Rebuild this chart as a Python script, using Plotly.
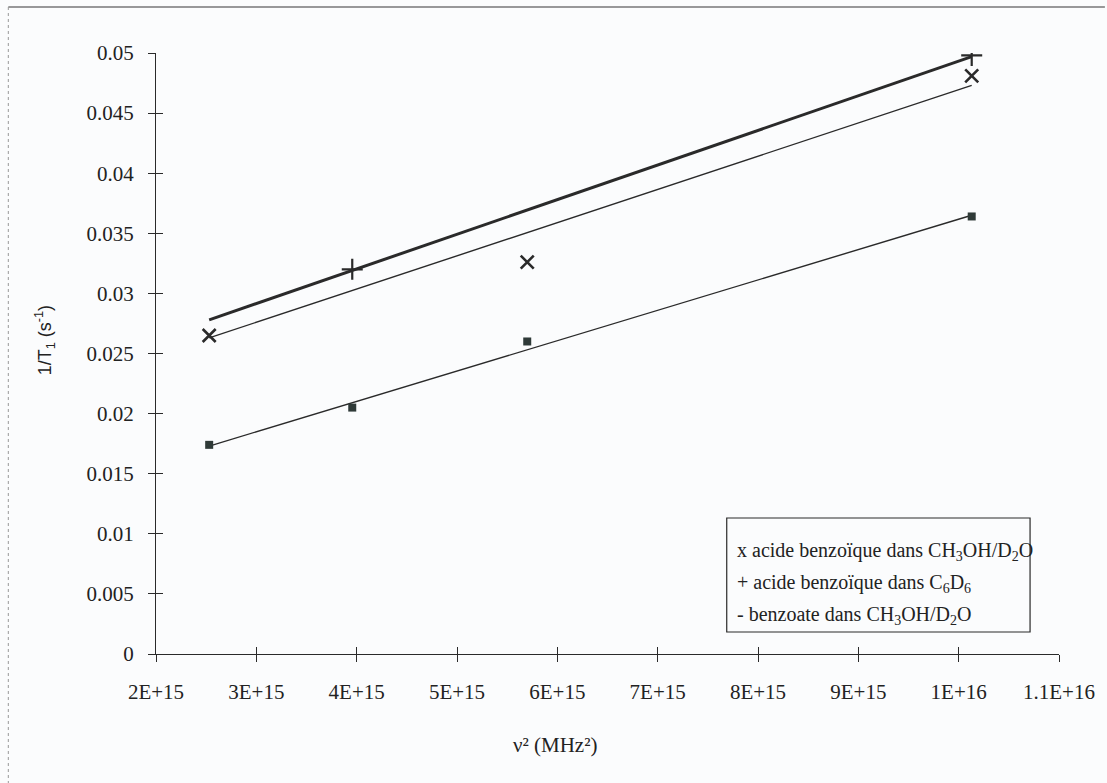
import plotly.graph_objects as go

# nu^2 values (MHz^2) at which relaxation rates were measured
nu2 = [2.53e15, 3.956e15, 5.70e15, 1.013e16]

# 1/T1 (s^-1) for each sample
acide_ch3oh = [0.0265, None, 0.0326, 0.0481]
acide_c6d6 = [None, 0.0320, None, 0.0498]
benzoate_ch3oh = [0.0174, 0.0205, 0.0260, 0.0364]

# linear fits, evaluated at the ends of the nu^2 range
fit_x = [2.53e15, 1.013e16]
fit_acide_ch3oh = [0.0263, 0.0473]
fit_acide_c6d6 = [0.0278, 0.0497]
fit_benzoate = [0.0173, 0.0365]

x_ticks = [2e15, 3e15, 4e15, 5e15, 6e15, 7e15, 8e15, 9e15, 1e16, 1.1e16]
x_ticktext = ["2E+15", "3E+15", "4E+15", "5E+15", "6E+15", "7E+15",
              "8E+15", "9E+15", "1E+16", "1.1E+16"]
y_ticks = [0, 0.005, 0.01, 0.015, 0.02, 0.025, 0.03, 0.035, 0.04, 0.045, 0.05]
y_ticktext = ["0", "0.005", "0.01", "0.015", "0.02", "0.025", "0.03",
              "0.035", "0.04", "0.045", "0.05"]

legend_lines = [
    "x acide benzoïque dans CH<sub>3</sub>OH/D<sub>2</sub>O",
    "+ acide benzoïque dans C<sub>6</sub>D<sub>6</sub>",
    "- benzoate dans CH<sub>3</sub>OH/D<sub>2</sub>O",
]

W, H = 1107, 783
ML, MR, MT, MB = 156, 46, 53, 129
SERIF = "Liberation Serif, Times New Roman, serif"
INK = "#2a2a2a"
TEXT = "#222222"
BG = "#fbfcfd"


def px(x):
    return (x - ML) / (W - ML - MR)


def py(y):
    return (H - MB - y) / (H - MT - MB)


fig = go.Figure()

# fitted lines
fig.add_trace(go.Scatter(x=fit_x, y=fit_acide_c6d6, mode="lines",
                         line=dict(color=INK, width=3), hoverinfo="skip"))
fig.add_trace(go.Scatter(x=fit_x, y=fit_acide_ch3oh, mode="lines",
                         line=dict(color=INK, width=1.4), hoverinfo="skip"))
fig.add_trace(go.Scatter(x=fit_x, y=fit_benzoate, mode="lines",
                         line=dict(color=INK, width=1.4), hoverinfo="skip"))

# measured points
fig.add_trace(go.Scatter(x=nu2, y=acide_ch3oh, mode="markers",
                         marker=dict(symbol="x-thin-open", size=13, color=INK,
                                     line=dict(color=INK, width=2.6))))
fig.add_trace(go.Scatter(x=nu2, y=acide_c6d6, mode="markers",
                         marker=dict(symbol="cross-thin-open", size=15, color=INK,
                                     line=dict(color=INK, width=2.2))))
fig.add_trace(go.Scatter(x=nu2, y=benzoate_ch3oh, mode="markers",
                         marker=dict(symbol="square", size=8, color="#2f3a38",
                                     line=dict(width=0))))

# overlay axes carry the inner half of each cross tick
fig.add_trace(go.Scatter(x=[None], y=[None], xaxis="x2", yaxis="y2",
                         hoverinfo="skip"))

axis_common = dict(showgrid=False, zeroline=False, ticklen=7, tickwidth=1,
                   tickcolor=INK)
tick_font = dict(family=SERIF, size=21, color=TEXT)

fig.update_layout(
    width=W, height=H,
    margin=dict(l=ML, r=MR, t=MT, b=MB),
    paper_bgcolor=BG,
    plot_bgcolor=BG,
    showlegend=False,
    font=dict(family=SERIF, size=20, color=TEXT),
    xaxis=dict(range=[2e15, 1.1e16], tickvals=x_ticks, ticktext=x_ticktext,
               ticks="outside", showline=True, linecolor=INK, linewidth=1.2,
               ticklabelstandoff=12, tickfont=tick_font, **axis_common),
    yaxis=dict(range=[0, 0.05], tickvals=y_ticks, ticktext=y_ticktext,
               ticks="outside", showline=True, linecolor=INK, linewidth=1.2,
               ticklabelstandoff=10, tickfont=tick_font, **axis_common),
    xaxis2=dict(range=[2e15, 1.1e16], tickvals=x_ticks, overlaying="x",
                anchor="y", side="bottom", ticks="inside", showline=False,
                showticklabels=False, **axis_common),
    yaxis2=dict(range=[0, 0.05], tickvals=y_ticks, overlaying="y",
                anchor="x", side="left", ticks="inside", showline=False,
                showticklabels=False, **axis_common),
)

# axis titles
fig.add_annotation(xref="paper", yref="paper", x=px(556), y=py(745),
                   xanchor="center", yanchor="middle", showarrow=False,
                   text="ν² (MHz²)", font=dict(family=SERIF, size=21, color=TEXT))
fig.add_annotation(xref="paper", yref="paper", x=px(44), y=py(340),
                   xanchor="center", yanchor="middle", showarrow=False,
                   textangle=-90, text="1/T<sub>1</sub> (s<sup>-1</sup>)",
                   font=dict(family="Liberation Sans, Arial, sans-serif",
                             size=18, color=TEXT))

# text legend in a framed box
box_l, box_r, box_t, box_b = 728, 1032, 518, 632
fig.add_shape(type="rect", xref="paper", yref="paper",
              x0=px(box_l), x1=px(box_r), y0=py(box_b), y1=py(box_t),
              line=dict(color=INK, width=1.2), fillcolor=BG, layer="above")
for i, txt in enumerate(legend_lines):
    fig.add_annotation(xref="paper", yref="paper", x=px(box_l + 8),
                       y=py(551 + i * 32), xanchor="left", yanchor="middle",
                       text=txt, showarrow=False,
                       font=dict(family=SERIF, size=20, color=TEXT))

# outer chart frame
fig.add_shape(type="line", xref="paper", yref="paper", x0=px(8), x1=px(W),
              y0=py(7), y1=py(7), line=dict(color="#777", width=1.5))
fig.add_shape(type="line", xref="paper", yref="paper", x0=px(8), x1=px(8),
              y0=py(7), y1=py(H), line=dict(color="#999", width=1, dash="dot"))

fig.write_html("out.html")
